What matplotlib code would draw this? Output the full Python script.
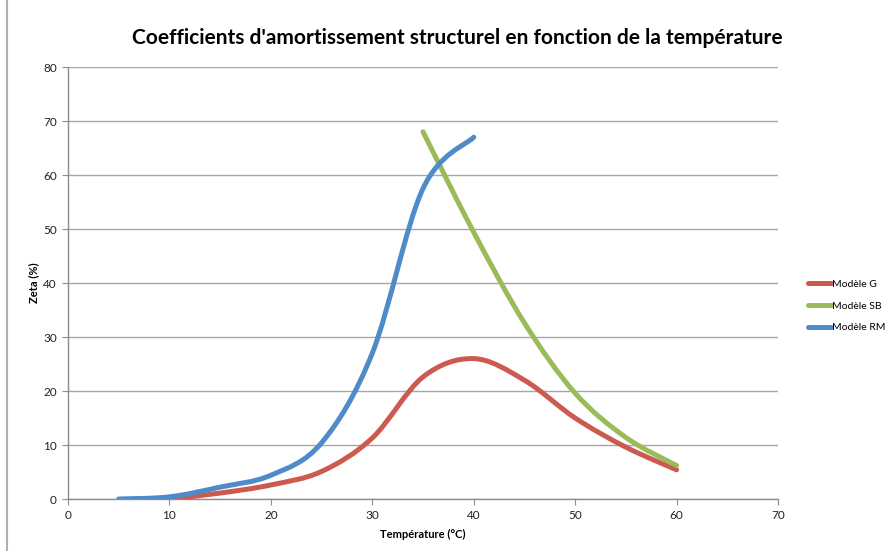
import numpy as np
import matplotlib
matplotlib.use('Agg')
import matplotlib.pyplot as plt
from matplotlib.path import Path
from matplotlib.patches import PathPatch
from matplotlib.lines import Line2D

plt.rcParams['font.family'] = ['Lato', 'DejaVu Sans']

# températures (°C) et zeta (%) pour chaque modèle
temp_g = [10, 15, 20, 25, 30, 35, 40, 45, 50, 55, 60]
zeta_g = [0.0, 1.1, 2.6, 5.1, 11.3, 22.6, 26.0, 22.0, 15.0, 9.6, 5.4]

temp_sb = [35, 40, 45, 50, 55, 60]
zeta_sb = [68.0, 49.4, 32.6, 19.6, 11.4, 6.2]

temp_rm = [5, 10, 15, 20, 25, 30, 35, 40]
zeta_rm = [0.0, 0.4, 2.2, 4.4, 10.4, 27.0, 57.5, 67.0]

labels = ['Modèle G', 'Modèle SB', 'Modèle RM']
colors = ['#cd5a50', '#9bbb59', '#4f8bc8']


def smooth_path(x, y):
    # courbe lissée façon tableur : bézier cubique passant par les points
    pts = np.column_stack([x, y]).astype(float)
    n = len(pts)
    verts = [pts[0]]
    codes = [Path.MOVETO]
    for i in range(n - 1):
        p0 = pts[i - 1] if i > 0 else pts[i]
        p1 = pts[i]
        p2 = pts[i + 1]
        p3 = pts[i + 2] if i + 2 < n else pts[i + 1]
        c1 = p1 + (p2 - p0) / 6.0
        c2 = p2 - (p3 - p1) / 6.0
        verts += [c1, c2, p2]
        codes += [Path.CURVE4] * 3
    return Path(verts, codes)


fig = plt.figure(figsize=(8.94, 5.51), dpi=100)
ax = fig.add_axes([68 / 894, 1 - 499 / 551, 710 / 894, 432 / 551])

for x, y, c in zip([temp_g, temp_sb, temp_rm], [zeta_g, zeta_sb, zeta_rm], colors):
    patch = PathPatch(smooth_path(x, y), facecolor='none', edgecolor=c,
                      lw=3.6, capstyle='round', joinstyle='round', zorder=3)
    ax.add_patch(patch)

ax.set_xlim(0, 70)
ax.set_ylim(0, 80)
ax.set_xticks(range(0, 71, 10))
ax.set_yticks(range(0, 81, 10))
ax.grid(axis='y', color='#a6a6a6', lw=1.0)
ax.set_axisbelow(True)
for s in ['top', 'right']:
    ax.spines[s].set_visible(False)
for s in ['left', 'bottom']:
    ax.spines[s].set_color('#8c8c8c')
    ax.spines[s].set_linewidth(1.0)
ax.tick_params(direction='out', length=4, color='#8c8c8c', labelsize=8.5,
               labelcolor='#222222', pad=4)

ax.set_xlabel('Température (°C)', fontsize=8, fontweight='bold', labelpad=6)
ax.set_ylabel('Zeta (%)', fontsize=8, fontweight='bold', labelpad=3)
fig.text(457 / 894, 1 - 38 / 551, "Coefficients d'amortissement structurel en fonction de la température",
         ha='center', va='center', fontsize=15, fontweight='bold')

handles = [Line2D([], [], color=c, lw=3.6, solid_capstyle='round') for c in colors]
fig.legend(handles, labels, loc='center left', bbox_to_anchor=(804 / 894, 1 - 306 / 551),
           frameon=False, fontsize=7.5, handlelength=2.2, handletextpad=0.1,
           labelspacing=1.2, borderaxespad=0)

fig.add_artist(Line2D([7 / 894, 7 / 894], [0, 1], color='#b0b0b0', lw=1.5))

fig.savefig('out.png', dpi=100)
